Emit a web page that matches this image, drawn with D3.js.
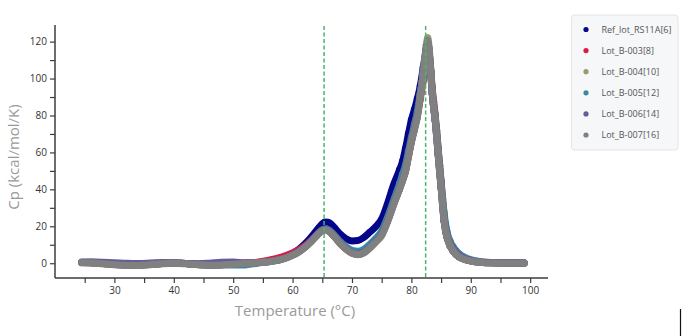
<!DOCTYPE html>
<html>
<head>
<meta charset="utf-8">
<script src="https://cdn.jsdelivr.net/npm/d3@7"></script>
<style>
  html, body { margin: 0; padding: 0; background: #fff; }
  svg { display: block; }
</style>
</head>
<body>
<svg id="chart" width="682" height="336"></svg>
<script>
// ---- data ----
const temps = [24.5,26,28,30,32,34,36,38,40,42,44,46,48,50,52,54,56,57,58,59,60,61,62,63,64,64.5,65,65.5,66,66.5,67,67.5,68,69,70,71,72,73,74,75,76,77,78,78.5,79,79.5,80,80.5,81,81.5,82,82.25,82.5,82.75,83,83.25,83.5,83.75,84,84.25,84.5,84.75,85,85.25,85.5,85.75,86,86.5,87,87.5,88,89,90,91,92,94,96,98,99];

const seriesNames = ["Ref_lot_RS11A[6]","Lot_B-003[8]","Lot_B-004[10]","Lot_B-005[12]","Lot_B-006[14]","Lot_B-007[16]"];
const seriesColors = ["#05058a","#dc1843","#9c9870","#3a88a2","#655d98","#808080"];

const cpRef = [0.4,0.3,-0.1,-0.5,-0.9,-0.9,-0.5,-0.1,0.1,-0.1,-0.5,-0.8,-0.6,-0.3,0,0.3,1.1,1.7,2.6,3.8,5.4,7.4,10.2,13.6,17.6,19.6,21.4,22.3,22.2,21.2,19.5,17.6,15.8,13.3,12.1,12.3,14.0,16.8,19.8,24.0,32.5,42.5,50.5,55.0,62.0,70.0,77.5,83.0,89.0,96.0,106.0,111.0,116.0,119.0,114.0,103.5,92.0,84.0,77.5,68.5,59.0,49.5,41.0,31.5,23.0,17.5,14.0,9.5,6.8,4.8,3.5,2.0,1.2,0.7,0.4,0.2,0.1,0.1,0.1];
const cpB003 = [0.5,0.3,-0.2,-0.7,-1.1,-1.1,-0.7,-0.2,0.1,-0.2,-0.7,-1.0,-0.8,-0.4,0,0.6,1.6,2.3,3.2,4.3,5.6,7.2,9.3,12.0,15.2,16.8,17.9,18.2,17.6,16.3,14.6,12.7,10.8,7.8,5.6,4.9,5.9,8.5,11.8,15.5,23.0,32.0,40.5,45.0,50.0,58.0,66.0,73.0,80.0,89.0,99.0,105.0,109.0,111.0,110.0,104.5,95.0,87.5,80.5,72.0,62.5,53.0,44.0,34.5,25.5,19.5,15.0,10.0,7.0,5.0,3.6,2.1,1.3,0.8,0.5,0.3,0.3,0.3,0.3];
const cpB004 = [0.2,0.3,-0.1,-0.6,-1.0,-1.0,-0.6,-0.1,0.1,-0.2,-0.7,-1.0,-0.8,-0.4,-0.1,0.3,0.9,1.4,2.1,3.1,4.4,6.1,8.4,11.3,14.7,16.4,17.7,18.1,17.6,16.3,14.6,12.7,10.8,7.7,5.5,4.7,5.7,8.3,11.5,15.2,22.8,31.8,40.3,44.8,49.8,57.8,65.8,72.5,79.5,91.0,103.5,111.0,118.0,122.0,116.5,105.5,93.5,85.0,78.5,69.5,60.0,50.5,42.0,32.5,24.0,18.5,14.5,9.8,7.0,5.0,3.6,2.1,1.3,0.8,0.4,0.1,0,0,0];
const cpB005 = [0.6,0.7,0.3,-0.3,-0.8,-0.9,-0.6,-0.2,0,-0.2,-0.7,-1.0,-1.0,-0.9,-0.9,0,0.8,1.3,2.0,3.0,4.4,6.1,8.5,11.5,15.0,16.8,18.1,18.6,18.2,17.0,15.4,13.6,11.8,8.9,7.0,6.5,7.6,10.3,13.5,17.5,25.0,34.0,43.0,48.0,53.0,60.5,68.0,75.0,82.0,92.0,103.0,109.5,115.0,118.0,113.5,104.0,93.5,85.5,79.5,71.0,62.0,53.0,44.5,35.5,27.5,21.5,17.0,12.0,9.0,6.8,5.2,3.2,2.0,1.2,0.7,0.3,0.1,0.1,0.1];
const cpB006 = [0.4,0.6,0.5,0.3,0,-0.1,0.1,0.4,0.3,-0.1,-0.3,0,0.5,0.6,0.2,0.3,0.9,1.4,2.1,3.1,4.5,6.2,8.6,11.5,14.9,16.6,17.9,18.3,17.8,16.5,14.8,12.9,11.0,7.9,5.8,5.0,6.0,8.6,11.8,15.6,23.2,32.0,40.5,45.0,50.0,58.0,66.0,73.0,80.0,91.0,102.5,109.5,116.0,119.0,114.5,104.0,93.0,84.5,78.5,69.5,60.5,51.0,42.5,33.0,25.0,19.5,15.5,10.8,8.0,5.9,4.4,2.6,1.6,1.0,0.6,0.2,0,0,0];
const cpB007 = [0.3,0.2,-0.3,-0.8,-1.2,-1.2,-0.8,-0.3,0,-0.3,-0.8,-1.1,-0.9,-0.5,-0.2,0.2,0.8,1.3,2.0,3.0,4.3,6.0,8.3,11.2,14.6,16.3,17.6,18.0,17.5,16.2,14.5,12.6,10.7,7.6,5.4,4.6,5.6,8.2,11.4,15.0,22.5,31.5,40.0,44.5,49.5,57.5,65.5,72.0,79.0,90.0,102.0,109.0,116.0,120.5,115.0,104.0,92.5,84.0,78.0,69.0,59.5,50.0,41.5,32.0,23.5,18.0,14.2,9.5,6.8,4.8,3.5,2.0,1.2,0.7,0.4,0.1,0.0,0.0,0.0];

const seriesValues = [cpRef, cpB003, cpB004, cpB005, cpB006, cpB007];

const xMajorTicks = [30,40,50,60,70,80,90,100];
const xMinorTicks = [25,35,45,55,65,75,85,95];
const yMajorTicks = [0,20,40,60,80,100,120];
const yMinorTicks = [10,30,50,70,90,110];
const markerTemps = [65.3, 82.4];

const xTitle = "Temperature (°C)";
const yTitle = "Cp (kcal/mol/K)";

// ---- layout ----
const svg = d3.select("#chart");
const pLeft = 55, pRight = 548, pTop = 25, pBottom = 278;
const x = d3.scaleLinear().domain([20, 103]).range([pLeft, pRight]);
const y = d3.scaleLinear().domain([-8, 129]).range([pBottom, pTop]);
const font = "'Open Sans', 'Noto Sans', sans-serif";

// ---- series ----
const line = d3.line()
  .x(d => x(d[0]))
  .y(d => y(d[1]))
  .curve(d3.curveMonotoneX);

const gSeries = svg.append("g");
seriesValues.forEach((vals, i) => {
  const pts = temps.map((t, j) => [t, vals[j]]);
  gSeries.append("path")
    .datum(pts)
    .attr("d", line)
    .attr("fill", "none")
    .attr("stroke", seriesColors[i])
    .attr("stroke-width", 7)
    .attr("stroke-linecap", "round")
    .attr("stroke-linejoin", "round");
  gSeries.append("g").selectAll("circle")
    .data(pts.filter(p => p[0] >= 78 && p[0] <= 88))
    .join("circle")
    .attr("cx", d => x(d[0]))
    .attr("cy", d => y(d[1]))
    .attr("r", 3.6)
    .attr("fill", seriesColors[i]);
});

// ---- marker lines ----
svg.append("g").selectAll("line")
  .data(markerTemps)
  .join("line")
  .attr("x1", d => x(d)).attr("x2", d => x(d))
  .attr("y1", pTop + 1).attr("y2", pBottom)
  .attr("stroke", "#46b868")
  .attr("stroke-width", 1.5)
  .attr("stroke-dasharray", "4,2.5");

// ---- axes ----
const axisColor = "#3c3c3c";
const xAxis = svg.append("g")
  .attr("transform", `translate(0,${pBottom})`)
  .call(d3.axisBottom(x).tickValues(xMajorTicks).tickSize(5).tickPadding(4).tickFormat(d3.format("d")));
svg.append("g")
  .attr("transform", `translate(0,${pBottom})`)
  .call(d3.axisBottom(x).tickValues(xMinorTicks).tickSize(5).tickFormat(""))
  .call(g => g.select(".domain").remove());
const yAxis = svg.append("g")
  .attr("transform", `translate(${pLeft},0)`)
  .call(d3.axisLeft(y).tickValues(yMajorTicks).tickSize(5).tickPadding(3).tickFormat(d3.format("d")));
svg.append("g")
  .attr("transform", `translate(${pLeft},0)`)
  .call(d3.axisLeft(y).tickValues(yMinorTicks).tickSize(5).tickFormat(""))
  .call(g => g.select(".domain").remove());

svg.selectAll(".domain").attr("stroke", axisColor).attr("stroke-width", 1.5);
xAxis.select(".domain").attr("d", `M${pLeft},0H${pRight}`);
yAxis.select(".domain").attr("d", `M0,${pTop}V${pBottom}`);
svg.selectAll(".tick line").attr("stroke", axisColor).attr("stroke-width", 1.2);
svg.selectAll(".tick text").attr("fill", "#333").attr("font-size", 10).attr("font-family", font);

// ---- titles ----
svg.append("text")
  .attr("x", 295).attr("y", 316)
  .attr("text-anchor", "middle")
  .attr("font-family", font).attr("font-size", 15)
  .attr("fill", "#9a9a9a")
  .text(xTitle);
svg.append("text")
  .attr("transform", "translate(19,157) rotate(-90)")
  .attr("text-anchor", "middle")
  .attr("font-family", font).attr("font-size", 15)
  .attr("fill", "#9a9a9a")
  .text(yTitle);

// ---- legend ----
const lg = svg.append("g");
lg.append("rect")
  .attr("x", 571.5).attr("y", 15).attr("width", 106.5).attr("height", 135)
  .attr("rx", 3)
  .attr("fill", "#f6f7f9").attr("stroke", "#e2e4e8");
const rowY = d3.scalePoint().domain(seriesNames).range([29.5, 135]);
const items = lg.selectAll("g.item").data(seriesNames).join("g").attr("class", "item")
  .attr("transform", d => `translate(0,${rowY(d)})`);
items.append("circle").attr("cx", 586).attr("cy", 0).attr("r", 2.6)
  .attr("fill", (d, i) => seriesColors[i]);
items.append("text").attr("x", 601.5).attr("y", 0).attr("dy", "0.35em")
  .attr("font-family", font).attr("font-size", 9).attr("fill", "#555")
  .text(d => d);

// cursor mark at bottom right
svg.append("line").attr("x1", 680.5).attr("x2", 680.5).attr("y1", 309).attr("y2", 336)
  .attr("stroke", "#111").attr("stroke-width", 1.2);
</script>
</body>
</html>
